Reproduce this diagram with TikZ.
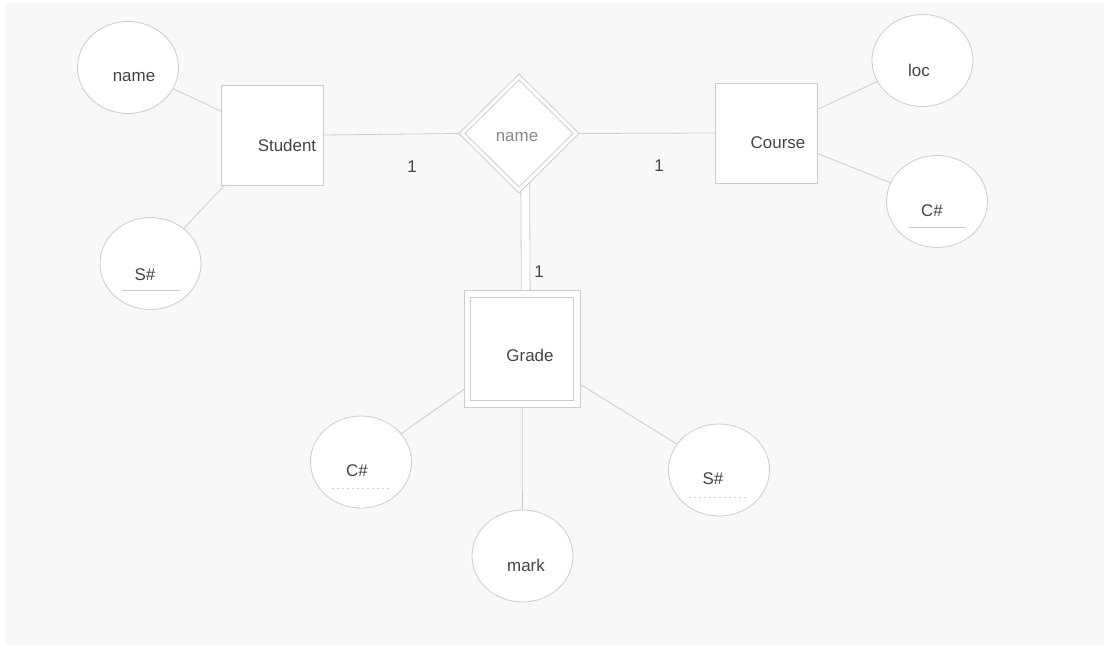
\documentclass[tikz,border=0pt]{standalone}
\usepackage{fontspec}
\setmainfont{Liberation Sans}
\usetikzlibrary{shapes.geometric}
\definecolor{canvas}{HTML}{F8F8F8}
\definecolor{edge}{HTML}{CCCCCC}
\definecolor{ink}{HTML}{444444}
\definecolor{softink}{HTML}{8A8A8A}
\pgfdeclarelayer{paper}
\pgfdeclarelayer{wires}
\pgfsetlayers{paper,wires,main}
\begin{document}
\begin{tikzpicture}[x=1bp,y=-1bp,
  every node/.style={inner sep=0pt, outer sep=0pt},
  txt/.style={font=\fontsize{17}{20}\selectfont, text=ink},
  shapeline/.style={draw=edge, line width=0.8bp},
  entity/.style={shapeline, fill=white, rectangle, minimum width=102bp, minimum height=100bp},
  weakouter/.style={shapeline, fill=white, rectangle, minimum width=116bp, minimum height=117bp},
  weakinner/.style={shapeline, rectangle, minimum width=103bp, minimum height=103bp},
  attr/.style={shapeline, fill=white, ellipse, minimum width=101bp, minimum height=92bp},
  relouter/.style={shapeline, fill=white, diamond, minimum width=120bp, minimum height=119bp},
  relinner/.style={shapeline, diamond, minimum width=108bp, minimum height=107bp},
  conn/.style={draw=edge, line width=0.8bp},
  key/.style={draw=edge, line width=0.8bp},
  partkey/.style={draw=edge, line width=0.8bp, dash pattern=on 2bp off 3bp}
]
\useasboundingbox (0,0) rectangle (1104,651);
\begin{pgfonlayer}{paper}
  \fill[canvas] (5,3) rectangle (1104,645);
\end{pgfonlayer}

% attributes
\node[attr] (sname) at (128,67.5) {};
\node[attr] (sno)   at (150.5,263.5) {};
\node[attr] (loc)   at (922.5,60.5) {};
\node[attr] (cno)   at (937,201.5) {};
\node[attr] (gcno)  at (361,462) {};
\node[attr] (mark)  at (522.5,556) {};
\node[attr] (gsno)  at (719,470) {};

% entities, weak entity and identifying relationship
\node[entity] (student) at (272,135) {};
\node[entity] (course)  at (766.5,133) {};
\node[weakouter] (grade) at (522,348.5) {};
\node[weakinner] (gradein) at (522,349) {};
\node[relouter] (link) at (519,133.5) {};
\node[relinner] (linkin) at (519,133.5) {};

% connectors
\begin{pgfonlayer}{wires}
\draw[conn] (sname) -- (student);
\draw[conn] (sno) -- (student);
\draw[conn] (course) -- (loc);
\draw[conn] (course) -- (cno);
\draw[conn] (grade) -- (gcno);
\draw[conn] (grade) -- (mark);
\draw[conn] (grade) -- (gsno);
\draw[conn] (student.east) -- (link.west);
\draw[conn] (link.east) -- (course.west);
\draw[draw=edge, line width=0.8bp, double=white, double distance=8bp]
  ([xshift=6bp]link.center) -- ([xshift=4bp]grade.center);
\end{pgfonlayer}

% labels
\node[txt] at (134,77) {name};
\node[txt] at (145,275) {S\#};
\node[txt] at (287,145) {Student};
\node[txt] at (778,143) {Course};
\node[txt] at (919,70) {loc};
\node[txt] at (932,211) {C\#};
\node[txt] at (530,355) {Grade};
\node[txt] at (357,471) {C\#};
\node[txt] at (526,565) {mark};
\node[txt] at (713,479) {S\#};
\node[txt, text=softink] at (517,137) {name};
\node[txt] at (412,167) {1};
\node[txt] at (659,166) {1};
\node[txt] at (539,272) {1};

% key underlines
\draw[key] (122,290) -- (180,290);
\draw[key] (908,227) -- (966,227);
\draw[partkey] (332,488) -- (390,488);
\draw[partkey] (689,497) -- (748,497);
\end{tikzpicture}
\end{document}
